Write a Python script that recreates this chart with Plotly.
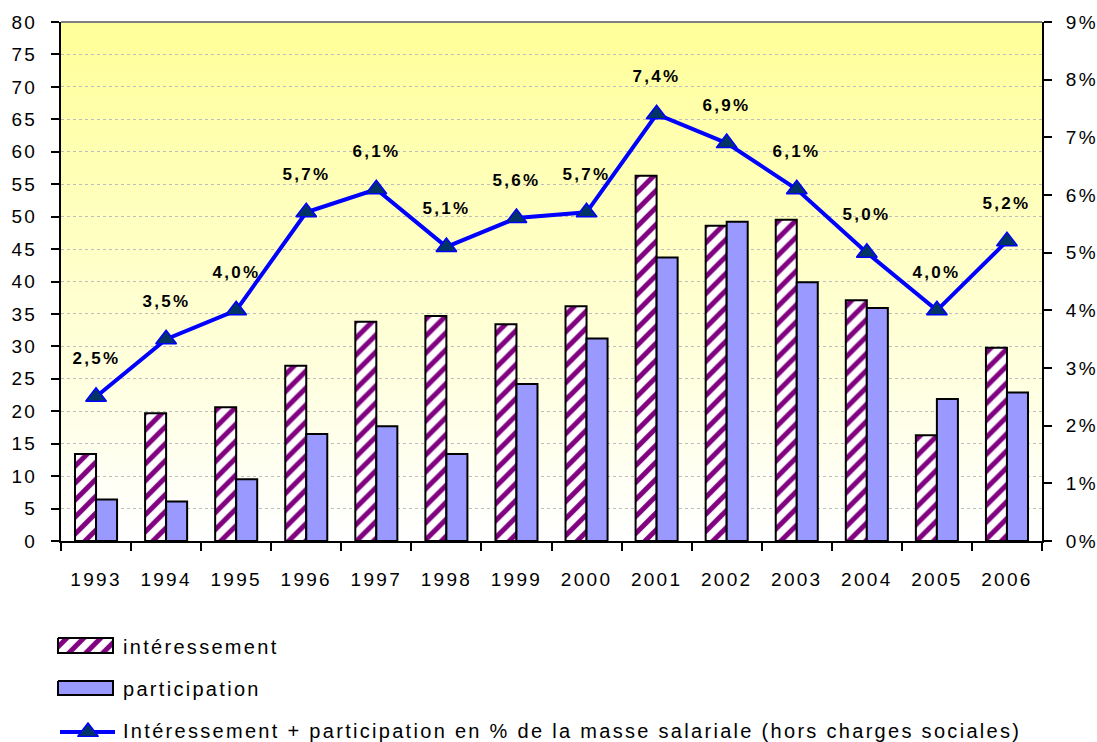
import plotly.graph_objects as go

years = ["1993", "1994", "1995", "1996", "1997", "1998", "1999", "2000",
         "2001", "2002", "2003", "2004", "2005", "2006"]
interessement = [13.4, 19.7, 20.6, 27.0, 33.8, 34.7, 33.4, 36.2, 56.3, 48.6, 49.5, 37.1, 16.3, 29.8]
participation = [6.4, 6.1, 9.5, 16.5, 17.7, 13.4, 24.2, 31.2, 43.7, 49.2, 39.9, 35.9, 21.9, 22.9]
pct_masse = [2.5, 3.5, 4.0, 5.7, 6.1, 5.1, 5.6, 5.7, 7.4, 6.9, 6.1, 5.0, 4.0, 5.2]
pct_labels = [f"{v:.1f}%".replace(".", ",") for v in pct_masse]
legend_names = ["intéressement", "participation",
                "Intéressement + participation en % de la masse salariale (hors charges sociales)"]

FONT = "Liberation Sans, Arial, sans-serif"
W, H = 1097, 742
ML, MR, MT, MB = 50, 50, 10, 5
PW, PH = W - ML - MR, H - MT - MB
# plot-area pixel box
PX0, PX1, PY0, PY1 = 61, 1042, 22, 541

PATTERN = dict(shape="/", fgcolor="#800080", bgcolor="white", fgopacity=1,
               size=12, solidity=0.42, fillmode="replace")
MARKER = dict(symbol="triangle-up", size=18, color="#003366",
              line=dict(color="#0000FF", width=1.5))

fig = go.Figure()
fig.add_trace(go.Bar(
    x=years, y=interessement, name=legend_names[0], showlegend=False,
    marker=dict(color="white", line=dict(color="black", width=2), pattern=PATTERN),
))
fig.add_trace(go.Bar(
    x=years, y=participation, name=legend_names[1], showlegend=False,
    marker=dict(color="#9999FF", line=dict(color="black", width=2)),
))
fig.add_trace(go.Scatter(
    x=years, y=pct_masse, yaxis="y2", mode="lines+markers",
    name=legend_names[2], showlegend=False,
    line=dict(color="#0000FF", width=4), marker=MARKER,
))
for i, (v, lab) in enumerate(zip(pct_masse, pct_labels)):
    fig.add_annotation(x=i, y=v, xref="x", yref="y2", text=lab, showarrow=False,
                       yshift=38, font=dict(family=FONT, size=17, color="black", weight="bold"))

# ---- custom legend, drawn on a pixel-coordinate helper axis pair ----
def rect(x0, x1, y0, y1):
    return [x0, x1, x1, x0, x0], [y0, y0, y1, y1, y0]

lx, ly = rect(58, 113, 638, 653)
fig.add_trace(go.Scatter(x=lx, y=ly, xaxis="x3", yaxis="y3", mode="lines", fill="toself",
                         fillcolor="white", fillpattern=PATTERN,
                         line=dict(color="black", width=2), showlegend=False, hoverinfo="skip"))
lx, ly = rect(58, 113, 681, 695)
fig.add_trace(go.Scatter(x=lx, y=ly, xaxis="x3", yaxis="y3", mode="lines", fill="toself",
                         fillcolor="#9999FF", line=dict(color="black", width=2),
                         showlegend=False, hoverinfo="skip"))
fig.add_trace(go.Scatter(x=[60, 115], y=[732, 732], xaxis="x3", yaxis="y3", mode="lines",
                         line=dict(color="#0000FF", width=4), showlegend=False, hoverinfo="skip"))
fig.add_trace(go.Scatter(x=[88], y=[732], xaxis="x3", yaxis="y3", mode="markers",
                         marker=MARKER, showlegend=False, hoverinfo="skip"))
for name, yc in zip(legend_names, [647, 689, 731]):
    fig.add_annotation(x=121, y=yc, xref="x3", yref="y3", text=name, showarrow=False,
                       xanchor="left", yanchor="middle", align="left",
                       font=dict(family=FONT, size=20, color="black"))

# vertical gradient background (yellow -> white) inside the main plot area
n = 60
for i in range(n):
    t = i / (n - 1)
    b = int(round(0x99 + (0xFF - 0x99) * t))
    fig.add_shape(type="rect", xref="x domain", yref="y domain", x0=0, x1=1,
                  y0=1 - (i + 1) / n, y1=1 - i / n + 0.001,
                  fillcolor=f"rgb(255,255,{b})", line=dict(width=0), layer="below")
fig.add_shape(type="line", xref="x domain", yref="y domain", x0=0, x1=1, y0=1, y1=1,
              line=dict(color="#808080", width=2), layer="above")

xdom = [(PX0 - ML) / PW, (PX1 - ML) / PW]
ydom = [(H - MB - PY1) / PH, (H - MB - PY0) / PH]
tf = dict(size=19, family=FONT, color="black")

fig.update_layout(
    width=W, height=H,
    margin=dict(l=ML, r=MR, t=MT, b=MB, autoexpand=False),
    paper_bgcolor="white", plot_bgcolor="rgba(0,0,0,0)",
    barmode="group", bargap=0.4, bargroupgap=0,
    font=dict(family=FONT, size=19, color="black"),
    showlegend=False,
    xaxis=dict(type="category", domain=xdom, anchor="y", range=[-0.5, len(years) - 0.5],
               showline=True, linecolor="black",
               linewidth=2, ticks="outside", tickson="boundaries", ticklen=8, tickwidth=2,
               tickcolor="black", showgrid=False, tickfont=tf, ticklabelstandoff=20,
               automargin=False, tickangle=0),
    yaxis=dict(domain=ydom, range=[0, 80], dtick=5, showline=True, linecolor="black",
               linewidth=2, ticks="outside", ticklen=8, tickwidth=2, tickcolor="black",
               showgrid=True, gridcolor="#BDBDBD", griddash="dot", gridwidth=1,
               zeroline=False, tickfont=tf, ticklabelstandoff=10, automargin=False),
    yaxis2=dict(range=[0, 9], dtick=1, overlaying="y", side="right", anchor="x",
                ticksuffix="%", showline=True, linecolor="black", linewidth=2,
                ticks="outside", ticklen=8, tickwidth=2, tickcolor="black",
                showgrid=False, zeroline=False, tickfont=tf, ticklabelstandoff=10,
                automargin=False),
    xaxis3=dict(domain=[0, 1], range=[ML, W - MR], anchor="y3", visible=False,
                fixedrange=True),
    yaxis3=dict(domain=[0, 1], range=[H - MB, MT], anchor="x3", visible=False,
                fixedrange=True),
)

post = """
var s=document.createElement('style');
s.innerHTML='html,body{margin:0;padding:0;} .main-svg text{letter-spacing:2.3px;}';
document.head.appendChild(s);
"""
fig.write_html("out.html", post_script=post, config={"displayModeBar": False})
